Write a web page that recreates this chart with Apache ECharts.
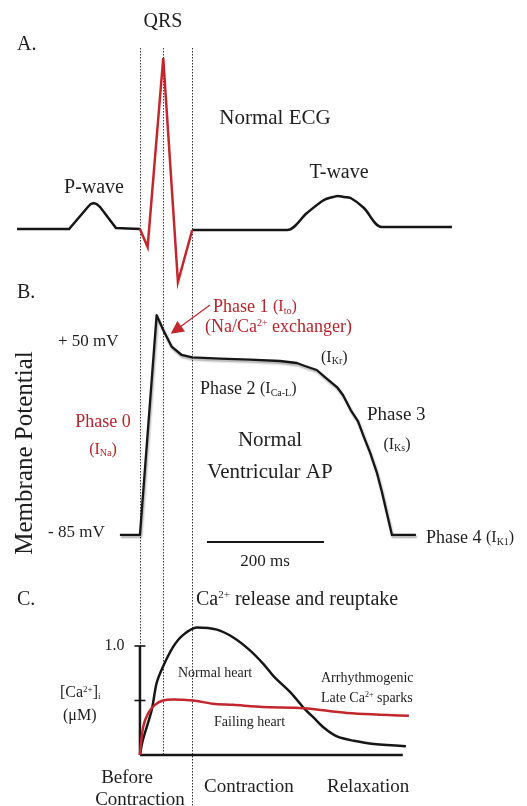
<!DOCTYPE html>
<html><head><meta charset="utf-8">
<script src="https://cdn.jsdelivr.net/npm/echarts@6/dist/echarts.min.js"></script>
<style>html,body{margin:0;padding:0;background:#fff}#c{width:527px;height:806px}</style>
</head><body><div id="c"></div>
<script>
// ---- Data (time in ms from QRS onset) ----
// A. ECG (mV)
const ecgPWave = [[-210,0],[-121,0],[-89,0.22],[-84,0.25],[-79,0.26],[-74,0.25],[-68,0.22],[-41,0.01],[0,0]];
const ecgQRS = [[0,0],[13.1,-0.18],[39.8,1.71],[64.9,-0.53],[89.3,-0.01]];
const ecgTWave = [[89.3,-0.01],[251.6,-0.01],[285.2,0.16],[314.3,0.29],[330,0.32],[338.2,0.33],[348,0.32],[359.9,0.31],[382.6,0.21],[412.8,0.02],[532.9,0.02]];
// B. Ventricular action potential (mV)
const apNormal = [[-34.2,-85],[0,-85],[28.5,68.8],[39.8,58.4],[54.2,46.7],[71.3,40.9],[89.3,39.3],[136.6,38.4],[187.9,37.7],[239,36.7],[268,35.3],[281.8,33.2],[302,30.4],[316,25.5],[336.5,18.5],[346.7,12.9],[360,2.4],[372.3,-5.3],[382.6,-16.5],[392.8,-27],[404.8,-41.6],[413.3,-55],[430.4,-85],[471.4,-85]];
const phase1Arrow = [[119.6,75.8],[61.5,58.4]];
const scaleBar = [[114.4,-90],[314.4,-90]]; // 200 ms
// C. Intracellular Ca2+ (uM)
const caNormal = [[0,0],[5.1,0.14],[20,0.41],[28.5,0.66],[39.3,0.81],[56.4,0.99],[73.4,1.10],[97.4,1.17],[131.5,1.15],[158.8,1.08],[187.9,0.96],[211.8,0.83],[228.9,0.72],[257.9,0.57],[280.1,0.43],[297.2,0.34],[314.3,0.25],[336.5,0.17],[365.5,0.13],[399.7,0.10],[454.3,0.08]];
const caFailing = [[0,0],[5.6,0.26],[14.2,0.385],[25.6,0.46],[39.3,0.50],[56.4,0.51],[90.5,0.50],[124.7,0.47],[158.8,0.46],[210,0.44],[280,0.43],[353.5,0.385],[459.4,0.36]];
const caBaseline = [[0,0],[449,0]];
const caAxis = [[0,0],[0,1]];
const caTicks = [0.5, 1.0];
const caTickLabels = {'1': '1.0'};
const eventTimes = [0, 39.8, 89.3]; // QRS onset, R peak, QRS end

// ---- Styling ----
const FF = '"Liberation Serif","Times New Roman",serif';
const RED = '#c1272d', TRED = '#b3262c', INK = '#161616', TXT = '#1e1e1e';
const X0 = -210, X1 = 533;

function rich(size, color) {
  return {
    n: {fontSize: size, fontFamily: FF, fill: color},
    p: {fontSize: size - 2, fontFamily: FF, fill: color},
    sub: {fontSize: Math.round(size * 0.55), fontFamily: FF, fill: color, verticalAlign: 'bottom'},
    sup: {fontSize: Math.round(size * 0.55), fontFamily: FF, fill: color, verticalAlign: 'top'}
  };
}
function txt(x, y, text, size, opt) {
  opt = opt || {};
  const color = opt.color || TXT;
  return {type: 'text', x: x, y: y, rotation: opt.rot || 0, silent: true, z: 5,
    style: {text: text, fontFamily: FF, fontSize: size, fill: color,
      textAlign: opt.align || 'left', textVerticalAlign: 'middle', rich: rich(size, color)}};
}

const texts = [
  txt(163, 22, 'QRS', 20, {align: 'center'}),
  txt(17, 45, 'A.', 20),
  txt(275, 118, 'Normal ECG', 21, {align: 'center'}),
  txt(94, 188, 'P-wave', 20, {align: 'center'}),
  txt(339, 173, 'T-wave', 20, {align: 'center'}),
  txt(17, 293, 'B.', 20),
  txt(213, 307, 'Phase 1 {p|(I}{sub|to}{p|)}', 18, {color: TRED}),
  txt(205, 327, '(Na/Ca{sup|2+} exchanger)', 18, {color: TRED}),
  txt(58, 342, '+ 50 mV', 17),
  txt(48, 533, '- 85 mV', 17),
  txt(25, 453, 'Membrane Potential', 25, {align: 'center', rot: Math.PI / 2}),
  txt(103, 422, 'Phase 0', 18, {color: TRED, align: 'center'}),
  txt(103, 450, '{p|(I}{sub|Na}{p|)}', 18, {color: TRED, align: 'center'}),
  txt(200, 389, 'Phase 2 {p|(I}{sub|Ca-L}{p|)}', 18),
  txt(321, 358, '{p|(I}{sub|Kr}{p|)}', 18),
  txt(270, 440, 'Normal', 21, {align: 'center'}),
  txt(270, 472, 'Ventricular AP', 21, {align: 'center'}),
  txt(367, 415, 'Phase 3', 19),
  txt(397, 445, '{p|(I}{sub|Ks}{p|)}', 18, {align: 'center'}),
  txt(426, 538, 'Phase 4 {p|(I}{sub|K1}{p|)}', 18),
  txt(265, 562, '200 ms', 17, {align: 'center'}),
  txt(17, 600, 'C.', 20),
  txt(196, 600, 'Ca{sup|2+} release and reuptake', 20),
  txt(60, 693, '[Ca{sup|2+}]{sub|i}', 16),
  txt(63, 716, '(\u03bcM)', 16),
  txt(178, 673, 'Normal heart', 14),
  txt(214, 722, 'Failing heart', 14),
  txt(321, 678, 'Arrhythmogenic', 14),
  txt(321, 698, 'Late Ca{sup|2+} sparks', 14),
  txt(127, 778, 'Before', 19, {align: 'center'}),
  txt(140, 800, 'Contraction', 19, {align: 'center'}),
  txt(204, 787, 'Contraction', 19),
  txt(327, 787, 'Relaxation', 19)
];

const hiddenX = (gi) => ({type: 'value', gridIndex: gi, min: X0, max: X1, show: false});
const line = (name, data, gi, color, width, extra) => Object.assign({
  name: name, type: 'line', xAxisIndex: gi, yAxisIndex: gi, data: data, symbol: 'none',
  clip: false, animation: false, lineStyle: {color: color, width: width, join: 'miter'}, z: 3
}, extra || {});
const gridBase = {left: 17, right: 75, containLabel: false, outerBoundsMode: 'none'};
const tickLabelStyle = {position: 'left', distance: 10, color: TXT, opacity: 1, fontFamily: FF, fontSize: 16, textBorderWidth: 0};

const chart = echarts.init(document.getElementById('c'), null, {renderer: 'canvas'});
chart.setOption({
  animation: false,
  backgroundColor: '#fff',
  grid: [
    Object.assign({top: 49, height: 240}, gridBase),
    Object.assign({top: 299.1, height: 257.3}, gridBase),
    Object.assign({top: 646, height: 109}, gridBase)
  ],
  xAxis: [hiddenX(0), hiddenX(1), hiddenX(2)],
  yAxis: [
    {type: 'value', gridIndex: 0, min: -0.6, max: 1.8, show: false},
    {type: 'value', gridIndex: 1, min: -100, max: 80, show: false},
    {type: 'value', gridIndex: 2, min: 0, max: 1, show: false}
  ],
  series: [
    line('P-wave', ecgPWave, 0, INK, 2.5),
    line('T-wave', ecgTWave, 0, INK, 2.5, {smooth: 0.3}),
    line('QRS', ecgQRS, 0, RED, 2.5, {z: 4}),
    line('Action potential', apNormal, 1, INK, 2.3, {
      lineStyle: {color: INK, width: 2.3, join: 'round', shadowColor: 'rgba(0,0,0,0.35)', shadowBlur: 2, shadowOffsetY: 2, shadowOffsetX: 1}}),
    line('200 ms', scaleBar, 1, INK, 2),
    {type: 'lines', coordinateSystem: 'cartesian2d', xAxisIndex: 1, yAxisIndex: 1,
      symbol: ['none', 'triangle'], symbolSize: [0, 13], animation: false, z: 4,
      lineStyle: {color: RED, width: 1.2, opacity: 1},
      data: [{coords: phase1Arrow}]},
    line('Ca axis', caAxis, 2, INK, 2.5),
    line('Baseline', caBaseline, 2, INK, 2.5),
    line('Normal heart', caNormal, 2, INK, 2.5, {smooth: 0.3}),
    line('Failing heart', caFailing, 2, RED, 2.5, {smooth: 0.3}),
    {type: 'scatter', xAxisIndex: 2, yAxisIndex: 2,
      data: caTicks.map(v => ({value: [0, v],
        label: Object.assign({show: !!caTickLabels[String(v)], formatter: caTickLabels[String(v)] || ''}, tickLabelStyle)})),
      symbol: 'rect', symbolSize: [11, 1.6], itemStyle: {color: INK, opacity: 1}, silent: true, animation: false, z: 4,
      emphasis: {disabled: true},
      label: tickLabelStyle}
  ],
  graphic: texts
});

// dotted guide lines at event times, through the shared time scale
const guideTop = 48;
const caBase = chart.convertToPixel({xAxisIndex: 2, yAxisIndex: 2}, [0, 0])[1];
const guides = eventTimes.map((t, i) => {
  const x = Math.round(chart.convertToPixel({xAxisIndex: 0}, t)) + 0.5;
  return {type: 'line', silent: true, z: 1,
    shape: {x1: x, y1: guideTop, x2: x, y2: i === 2 ? 806 : caBase},
    style: {stroke: '#333', lineWidth: 1, lineDash: [1.5, 1.5]}};
});
chart.setOption({graphic: texts.concat(guides)});
</script>
</body></html>
